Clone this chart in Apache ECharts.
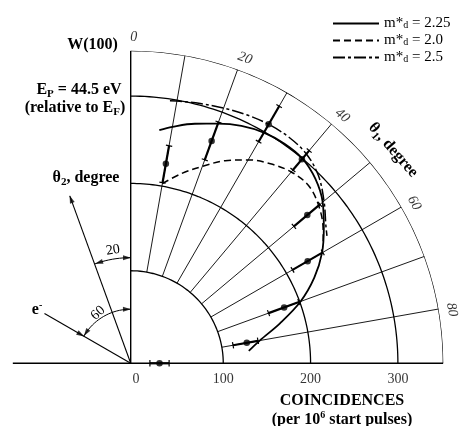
<!DOCTYPE html>
<html>
<head>
<meta charset="utf-8">
<script src="https://cdn.jsdelivr.net/npm/echarts@6/dist/echarts.min.js"></script>
<style>
  html, body { margin: 0; padding: 0; background: #fff; }
  #chart { width: 461px; height: 426px; }
</style>
</head>
<body>
<div id="chart"></div>
<script>
// Measured coincidence counts vs. emission angle theta1 (degrees from the normal)
const thetaPoints = [10, 20, 30, 40, 50, 60, 70, 80, 90];
const counts      = [226, 265, 310, 299, 258, 228, 181, 129, 27];
const countsLow   = [204, 242, 287, 283, 238, 208, 162, 113, 16];
const countsHigh  = [247, 288, 334, 312, 277, 248, 199, 142, 38];

// Model curves for three d-band effective masses
const thetaM225 = [7, 10, 15, 20, 25, 30, 35, 40, 45, 50, 55, 60, 65, 70, 75, 80, 84];
const valsM225  = [263, 269, 278, 286, 294, 299, 301, 300, 293, 281, 264, 247, 226, 201, 171, 144, 130];
const thetaM20  = [10, 15, 20, 25, 30, 35, 40, 45, 50, 55, 58];
const valsM20   = [203, 219, 234, 250, 263, 273, 280, 282, 275, 263, 254];
const thetaM25  = [8.5, 10, 15, 20, 25, 30, 35, 40, 45, 50, 55, 57];
const valsM25   = [298, 299, 302, 305, 308, 310, 310, 307, 298, 283, 267, 262];

// Polar grid: rings, spokes and tick labels
const ringValues   = [100, 200, 300];
const radialTicks  = [0, 100, 200, 300];
const spokeAngles  = [10, 20, 30, 40, 50, 60, 70, 80];
const angleTicks   = [0, 20, 40, 60, 80];

const R_MIN = -6, R_MAX = 352;      // radial extent of the plot
const SPOKE_START = 100;            // spokes start at the first ring
const ANGLE_LABEL_R = 367;          // angle labels sit just outside the rim
const BASE_EXT = 129;               // baseline continues to the left of the origin

// Geometry of the incidence / detection sketch (angles measured from the normal)
const theta2Angle = 340, theta2Len = 198;
const incAngle = 300, incLen = 108;
const arc20R = 115, arc60R = 56;

const SERIF = '"Liberation Serif", "Times New Roman", serif';
const K = '#000';
const POLAR = 'polar';

function arcPoints(r, a0, a1) {
  const pts = [];
  const step = a1 > a0 ? 1 : -1;
  for (let a = a0; step > 0 ? a <= a1 : a >= a1; a += step) pts.push([r, a]);
  return pts;
}
function gridLine(data, width) {
  return { type: 'line', coordinateSystem: POLAR, data, symbol: 'none', silent: true, clip: false,
           lineStyle: { color: K, width: width }, z: 1 };
}
function curve(name, thetas, vals, type, width) {
  return { name, type: 'line', coordinateSystem: POLAR, smooth: 0.35, symbol: 'none', clip: false,
           data: thetas.map((t, i) => [vals[i], t]),
           lineStyle: { color: K, width: width, type: type, cap: 'butt' },
           itemStyle: { color: K }, z: 3 };
}

const series = [];
// rings and rim
ringValues.concat([R_MAX]).forEach(v => series.push(gridLine(arcPoints(v, 0, 90), 1.3)));
// spokes
spokeAngles.forEach(a => series.push(gridLine([[SPOKE_START, a], [R_MAX, a]], 0.9)));
// normal axis and baseline
series.push(gridLine([[R_MIN, 0], [R_MAX, 0]], 1.4));
series.push(gridLine([[BASE_EXT, 270], [R_MIN, 270], [R_MIN, 90], [R_MAX, 90]], 1.4));
// incidence sketch
series.push(gridLine([[R_MIN, theta2Angle], [theta2Len, theta2Angle]], 1.1));
series.push(gridLine([[incLen, incAngle], [R_MIN, incAngle]], 1.1));
series.push(gridLine(arcPoints(arc20R, theta2Angle, 360), 1));
series.push(gridLine(arcPoints(arc60R, incAngle, 360), 1));

// arrowheads of the sketch (triangle points along the given rotation)
const arrows = [
  { value: [theta2Len - 4, theta2Angle], symbolRotate: -(theta2Angle - 360) },
  { value: [60, incAngle], symbolRotate: 180 - (incAngle - 360) },
  { value: [arc20R, 358], symbolRotate: -90 },
  { value: [arc20R, 342.5], symbolRotate: 90 - (342.5 - 360) },
  { value: [arc60R, 356], symbolRotate: -90 },
  { value: [arc60R, 304.5], symbolRotate: 90 - (304.5 - 360) }
];
series.push({ type: 'scatter', coordinateSystem: POLAR, symbol: 'triangle', symbolSize: [5, 8],
  clip: false, silent: true, itemStyle: { color: K }, data: arrows, z: 4 });

// model curves
series.push(curve('2.25', thetaM225, valsM225, 'solid', 1.8));
series.push(curve('2.0', thetaM20, valsM20, [7, 4], 1.5));
series.push(curve('2.5', thetaM25, valsM25, [12, 3, 3, 3], 1.5));

// error bars
series.push({
  type: 'custom', coordinateSystem: POLAR, silent: true, clip: false, z: 5,
  data: thetaPoints.map((t, i) => [countsLow[i], countsHigh[i], t]),
  renderItem(params, api) {
    const a = api.value(2);
    const p0 = api.coord([api.value(0), a]);
    const p1 = api.coord([api.value(1), a]);
    const dx = p1[0] - p0[0], dy = p1[1] - p0[1];
    const len = Math.hypot(dx, dy) || 1;
    const nx = -dy / len * 3.2, ny = dx / len * 3.2;
    const tick = { stroke: K, lineWidth: 1.2 };
    return { type: 'group', children: [
      { type: 'line', shape: { x1: p0[0], y1: p0[1], x2: p1[0], y2: p1[1] }, style: { stroke: K, lineWidth: 2.2 } },
      { type: 'line', shape: { x1: p0[0] - nx, y1: p0[1] - ny, x2: p0[0] + nx, y2: p0[1] + ny }, style: tick },
      { type: 'line', shape: { x1: p1[0] - nx, y1: p1[1] - ny, x2: p1[0] + nx, y2: p1[1] + ny }, style: tick }
    ]};
  }
});
// measured points
series.push({ type: 'scatter', coordinateSystem: POLAR, symbol: 'circle', symbolSize: 6.5,
  clip: false, silent: true, z: 6,
  itemStyle: { color: K }, data: thetaPoints.map((t, i) => [counts[i], t]) });

// angle tick labels along the rim
series.push({ type: 'scatter', coordinateSystem: POLAR, symbolSize: 0, clip: false, silent: true, z: 6,
  data: angleTicks.map(a => ({ value: [ANGLE_LABEL_R, a], label: { rotate: -a } })),
  label: { show: true, position: 'inside', offset: [3, 0], formatter: p => String(p.value[1]),
           color: K, fontFamily: SERIF, fontStyle: 'italic', fontSize: 14 } });
// radial tick labels under the baseline
series.push({ type: 'scatter', coordinateSystem: POLAR, symbolSize: 0, clip: false, silent: true, z: 6,
  data: radialTicks.map(v => [v, 90]),
  label: { show: true, position: 'bottom', distance: 9, formatter: p => String(p.value[0]),
           color: K, fontFamily: SERIF, fontSize: 14 } });

const bold = { fontFamily: SERIF, fontWeight: 'bold', fontSize: 16, lineHeight: 20, fill: K };
const sub  = { fontFamily: SERIF, fontWeight: 'bold', fontSize: 11, lineHeight: 11, verticalAlign: 'bottom', fill: K };
const sup  = { fontFamily: SERIF, fontWeight: 'bold', fontSize: 10, lineHeight: 10, verticalAlign: 'top', fill: K };
function label(x, y, text, extra) {
  return Object.assign({ type: 'text', x, y, silent: true, z: 10,
    style: { text, rich: { b: bold, s: sub, u: sup }, align: 'center', verticalAlign: 'middle' } }, extra || {});
}
function plain(x, y, text, rot) {
  return { type: 'text', x, y, rotation: rot * Math.PI / 180, silent: true, z: 10,
    style: { text, fontFamily: SERIF, fontSize: 14, fill: K, align: 'center', verticalAlign: 'middle' } };
}

const chart = echarts.init(document.getElementById('chart'), null, { renderer: 'canvas' });
chart.setOption({
  animation: false,
  backgroundColor: '#fff',
  polar: { center: [130.7, 363.3], radius: 312.6 },
  angleAxis: { type: 'value', min: 0, max: 360, startAngle: 90, clockwise: true,
               axisLine: { show: false }, axisTick: { show: false }, axisLabel: { show: false },
               splitLine: { show: false } },
  radiusAxis: { type: 'value', min: R_MIN, max: R_MAX,
                axisLine: { show: false }, axisTick: { show: false }, axisLabel: { show: false },
                splitLine: { show: false } },
  legend: {
    orient: 'vertical', left: 327, top: 11, itemWidth: 46, itemHeight: 14, itemGap: 2,
    selectedMode: false, data: ['2.25', '2.0', '2.5'],
    itemStyle: { opacity: 0 },
    formatter: n => 'm*{d|d} = ' + n,
    textStyle: { fontFamily: SERIF, fontSize: 15, color: K, lineHeight: 14,
      rich: { d: { fontFamily: SERIF, fontSize: 10, lineHeight: 10, verticalAlign: 'bottom', color: K } } }
  },
  graphic: [
    label(92.5, 45, '{b|W(100)}'),
    label(79, 90, '{b|E}{s|P}{b| = 44.5 eV}'),
    label(75, 108, '{b|(relative to E}{s|F}{b|)}'),
    label(86, 178, '{b|θ}{s|2}{b|, degree}'),
    label(393, 150, '{b|θ}{s|1}{b|, degree}', { rotation: -49 * Math.PI / 180 }),
    label(342, 401, '{b|COINCIDENCES}'),
    label(342, 420, '{b|(per 10}{u|6}{b| start pulses)}'),
    label(37, 310, '{b|e}{u|-}'),
    plain(113, 250, '20', 9),
    plain(98, 313, '60', 42)
  ],
  series
});
</script>
</body>
</html>
